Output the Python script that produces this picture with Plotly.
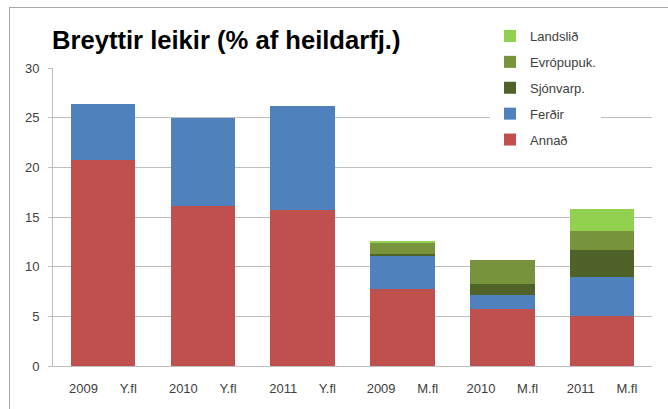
import plotly.graph_objects as go

NB = "\u00a0" * 6
years = ["2009", "2010", "2011", "2009", "2010", "2011"]
groups = ["Y.fl", "Y.fl", "Y.fl", "M.fl", "M.fl", "M.fl"]
categories = [f"{y}{NB}{g}" for y, g in zip(years, groups)]

annad = [20.7, 16.1, 15.7, 7.8, 5.7, 5.0]
ferdir = [5.7, 8.9, 10.45, 3.25, 1.4, 3.95]
sjonvarp = [0, 0, 0, 0.25, 1.15, 2.7]
evropu = [0, 0, 0, 1.1, 2.45, 1.95]
landslid = [0, 0, 0, 0.2, 0, 2.2]

series = [
    ("Annað", annad, "#C0504D"),
    ("Ferðir", ferdir, "#4F81BD"),
    ("Sjónvarp.", sjonvarp, "#4F6228"),
    ("Evrópupuk.", evropu, "#77933C"),
    ("Landslið", landslid, "#92D050"),
]

fig = go.Figure()
n = len(series)
for i, (name, vals, col) in enumerate(series):
    fig.add_trace(go.Bar(x=categories, y=vals, name=name, marker_color=col,
                         marker_line_width=0, legendgroup=name,
                         legendrank=1000 + (n - i)))

W, H = 668, 409
L, R, T, B = 53, 16, 68, 43
pw, ph = W - L - R, H - T - B

def px_x(p):
    return (p - L) / pw

def px_y(p):
    return (H - B - p) / ph

fig.update_layout(
    width=W, height=H,
    margin=dict(l=L, r=R, t=T, b=B, autoexpand=False),
    barmode="stack", bargap=0.354,
    paper_bgcolor="white", plot_bgcolor="white",
    font=dict(family="Liberation Sans, Arial, sans-serif", size=13, color="#404040"),
    title=dict(text="<b>Breyttir leikir (% af heildarfj.)</b>",
               font=dict(size=25.6, color="black"),
               x=52 / W, xanchor="left", xref="container",
               y=1 - 40 / H, yanchor="middle", yref="container"),
    legend=dict(traceorder="grouped", tracegroupgap=6,
                x=px_x(490), xanchor="left", y=px_y(21), yanchor="top",
                bgcolor="white", font=dict(size=13, color="#404040")),
    xaxis=dict(showgrid=False, showline=True, linecolor="#BEBEBE", linewidth=1,
               ticks="", ticklabelstandoff=10, tickfont=dict(size=13)),
    yaxis=dict(range=[0, 30], dtick=5, showgrid=True, gridcolor="#BEBEBE",
               gridwidth=1, showline=True, linecolor="#BEBEBE", linewidth=1,
               ticks="outside", ticklen=4, tickcolor="#BEBEBE",
               ticklabelstandoff=6, zeroline=False, tickfont=dict(size=13)),
    shapes=[
        dict(type="line", xref="paper", yref="paper", x0=px_x(9), x1=px_x(700),
             y0=px_y(7.5), y1=px_y(7.5), line=dict(color="#A6A6A6", width=1)),
        dict(type="line", xref="paper", yref="paper", x0=px_x(9.5), x1=px_x(9.5),
             y0=px_y(7.5), y1=px_y(420), line=dict(color="#A6A6A6", width=1)),
    ],
)

fig.write_html("out.html", config={"displayModeBar": False},
               post_script="document.body.style.margin='0px';")
